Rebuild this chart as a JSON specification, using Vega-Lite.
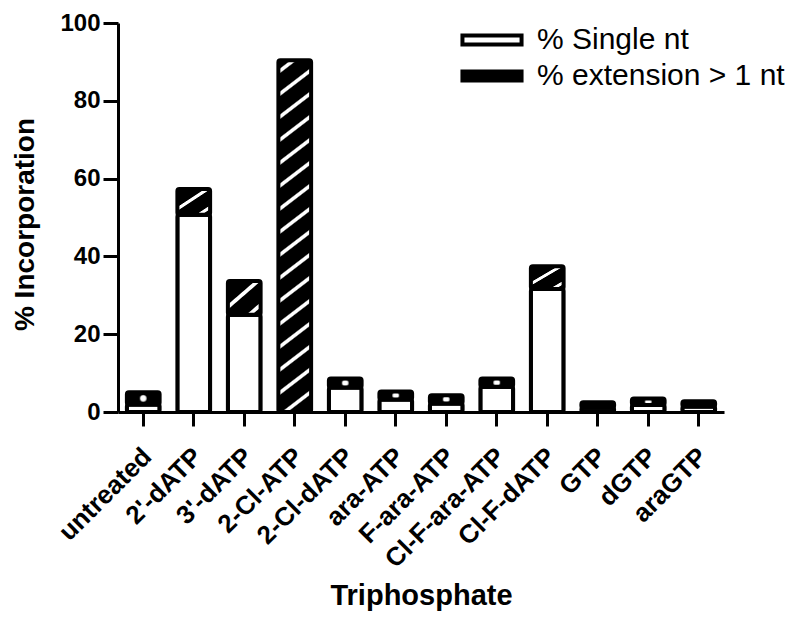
{
  "$schema": "https://vega.github.io/schema/vega-lite/v6.json",
  "autosize": "none",
  "width": 606,
  "height": 389,
  "padding": {"left": 118, "top": 23, "right": 76, "bottom": 217},
  "background": "white",
  "data": {
    "values": [
      {"name": "untreated", "single": 1.9, "total": 5.1},
      {"name": "2'-dATP", "single": 50.7, "total": 57.3},
      {"name": "3'-dATP", "single": 25.0, "total": 33.7},
      {"name": "2-Cl-ATP", "single": 0, "total": 90.4},
      {"name": "2-Cl-dATP", "single": 6.3, "total": 8.6},
      {"name": "ara-ATP", "single": 3.2, "total": 5.3},
      {"name": "F-ara-ATP", "single": 2.2, "total": 4.3},
      {"name": "Cl-F-ara-ATP", "single": 6.5, "total": 8.6},
      {"name": "Cl-F-dATP", "single": 31.6, "total": 37.5},
      {"name": "GTP", "single": 1.1, "total": 2.5},
      {"name": "dGTP", "single": 1.8, "total": 3.5},
      {"name": "araGTP", "single": 1.4, "total": 2.75}
    ]
  },
  "encoding": {
    "x": {
      "field": "name",
      "type": "nominal",
      "sort": null,
      "scale": {"paddingInner": 0.28, "paddingOuter": 0.14},
      "axis": {
        "title": "Triphosphate",
        "labelAngle": -45,
        "labelFontSize": 26,
        "labelFontWeight": "bold",
        "labelPadding": 17,
        "labelOffset": -5,
        "labelLimit": 400,
        "tickSize": 14,
        "tickWidth": 3,
        "domainWidth": 3,
        "titleFontSize": 29,
        "titleFontWeight": "bold",
        "titleBaseline": "alphabetic",
        "titleY": 192,
        "titleX": 303
      }
    }
  },
  "layer": [
    {
      "mark": {"type": "bar", "stroke": "black", "strokeWidth": 4, "cornerRadius": 2, "width": {"band": 0.9}},
      "encoding": {
        "y": {
          "field": "single",
          "type": "quantitative",
          "scale": {"domain": [0, 100], "nice": false},
          "axis": {
            "title": "% Incorporation",
            "values": [0, 20, 40, 60, 80, 100],
            "labelFontSize": 24,
            "labelFontWeight": "bold",
            "labelPadding": 3,
            "tickSize": 15,
            "tickWidth": 3,
            "domainWidth": 3,
            "grid": false,
            "titleFontSize": 28,
            "titleFontWeight": "bold",
            "titleAngle": -90,
            "titleBaseline": "alphabetic",
            "titleAlign": "center",
            "titleX": -85,
            "titleY": 201
          }
        },
        "fill": {
          "datum": "% Single nt",
          "type": "nominal",
          "scale": {"domain": ["% Single nt", "% extension > 1 nt"], "range": ["white", "black"]},
          "legend": {
            "title": null,
            "orient": "none",
            "legendX": 357,
            "legendY": 0,
            "symbolType": "M-1.97,-0.3H1.97V0.3H-1.97Z",
            "symbolSize": 900,
            "symbolStrokeColor": "black",
            "symbolStrokeWidth": 4,
            "labelFontSize": 30,
            "labelFont": "Liberation Sans",
            "labelColor": "black",
            "labelOffset": 28,
            "labelLimit": 400,
            "rowPadding": 4
          }
        }
      }
    },
    {
      "mark": {"type": "bar", "stroke": "black", "strokeWidth": 4, "cornerRadius": 2, "width": {"band": 0.9}},
      "encoding": {
        "y": {"field": "total", "type": "quantitative"},
        "y2": {"field": "single"},
        "fill": {
          "condition": [
            {
              "test": "datum.name === '2-Cl-ATP'",
              "value": {
                "gradient": "linear", "x1": 0, "y1": 0, "x2": 0.076, "y2": 1.066,
                "stops": [
                  {"offset": 0, "color": "black"},
                  {"offset": 0.023, "color": "black"}, {"offset": 0.027, "color": "white"}, {"offset": 0.035, "color": "white"}, {"offset": 0.039, "color": "black"},
                  {"offset": 0.084, "color": "black"}, {"offset": 0.088, "color": "white"}, {"offset": 0.096, "color": "white"}, {"offset": 0.100, "color": "black"},
                  {"offset": 0.145, "color": "black"}, {"offset": 0.149, "color": "white"}, {"offset": 0.157, "color": "white"}, {"offset": 0.161, "color": "black"},
                  {"offset": 0.206, "color": "black"}, {"offset": 0.210, "color": "white"}, {"offset": 0.218, "color": "white"}, {"offset": 0.222, "color": "black"},
                  {"offset": 0.267, "color": "black"}, {"offset": 0.271, "color": "white"}, {"offset": 0.279, "color": "white"}, {"offset": 0.283, "color": "black"},
                  {"offset": 0.328, "color": "black"}, {"offset": 0.332, "color": "white"}, {"offset": 0.340, "color": "white"}, {"offset": 0.344, "color": "black"},
                  {"offset": 0.389, "color": "black"}, {"offset": 0.393, "color": "white"}, {"offset": 0.401, "color": "white"}, {"offset": 0.405, "color": "black"},
                  {"offset": 0.450, "color": "black"}, {"offset": 0.454, "color": "white"}, {"offset": 0.462, "color": "white"}, {"offset": 0.466, "color": "black"},
                  {"offset": 0.511, "color": "black"}, {"offset": 0.515, "color": "white"}, {"offset": 0.523, "color": "white"}, {"offset": 0.527, "color": "black"},
                  {"offset": 0.572, "color": "black"}, {"offset": 0.576, "color": "white"}, {"offset": 0.584, "color": "white"}, {"offset": 0.588, "color": "black"},
                  {"offset": 0.633, "color": "black"}, {"offset": 0.637, "color": "white"}, {"offset": 0.645, "color": "white"}, {"offset": 0.649, "color": "black"},
                  {"offset": 0.694, "color": "black"}, {"offset": 0.698, "color": "white"}, {"offset": 0.706, "color": "white"}, {"offset": 0.710, "color": "black"},
                  {"offset": 0.755, "color": "black"}, {"offset": 0.759, "color": "white"}, {"offset": 0.767, "color": "white"}, {"offset": 0.771, "color": "black"},
                  {"offset": 0.816, "color": "black"}, {"offset": 0.820, "color": "white"}, {"offset": 0.828, "color": "white"}, {"offset": 0.832, "color": "black"},
                  {"offset": 0.877, "color": "black"}, {"offset": 0.881, "color": "white"}, {"offset": 0.889, "color": "white"}, {"offset": 0.893, "color": "black"},
                  {"offset": 0.938, "color": "black"}, {"offset": 0.942, "color": "white"}, {"offset": 0.950, "color": "white"}, {"offset": 0.954, "color": "black"},
                  {"offset": 1, "color": "black"}
                ]
              }
            },
            {
              "test": "indexof(['2\\'-dATP', '3\\'-dATP', 'Cl-F-dATP'], datum.name) >= 0",
              "value": {
                "gradient": "linear", "x1": 0, "y1": 0, "x2": 0.905, "y2": 1.081,
                "stops": [
                  {"offset": 0, "color": "black"},
                  {"offset": 0.37, "color": "black"}, {"offset": 0.39, "color": "white"}, {"offset": 0.45, "color": "white"}, {"offset": 0.47, "color": "black"},
                  {"offset": 0.79, "color": "black"}, {"offset": 0.81, "color": "white"}, {"offset": 0.87, "color": "white"}, {"offset": 0.89, "color": "black"},
                  {"offset": 1, "color": "black"}
                ]
              }
            },
            {"test": "indexof(['GTP', 'araGTP'], datum.name) >= 0", "value": "black"}
          ],
          "value": {
            "gradient": "radial", "x1": 0.5, "y1": 0.5, "r1": 0, "x2": 0.5, "y2": 0.5, "r2": 0.5,
            "stops": [
              {"offset": 0, "color": "white"},
              {"offset": 0.16, "color": "white"},
              {"offset": 0.24, "color": "black"},
              {"offset": 1, "color": "black"}
            ]
          }
        }
      }
    }
  ],
  "config": {
    "font": "Liberation Sans",
    "view": {"stroke": null},
    "axis": {
      "labelFont": "Liberation Sans",
      "titleFont": "Liberation Sans",
      "labelColor": "black",
      "titleColor": "black",
      "domainColor": "black",
      "tickColor": "black"
    }
  }
}
